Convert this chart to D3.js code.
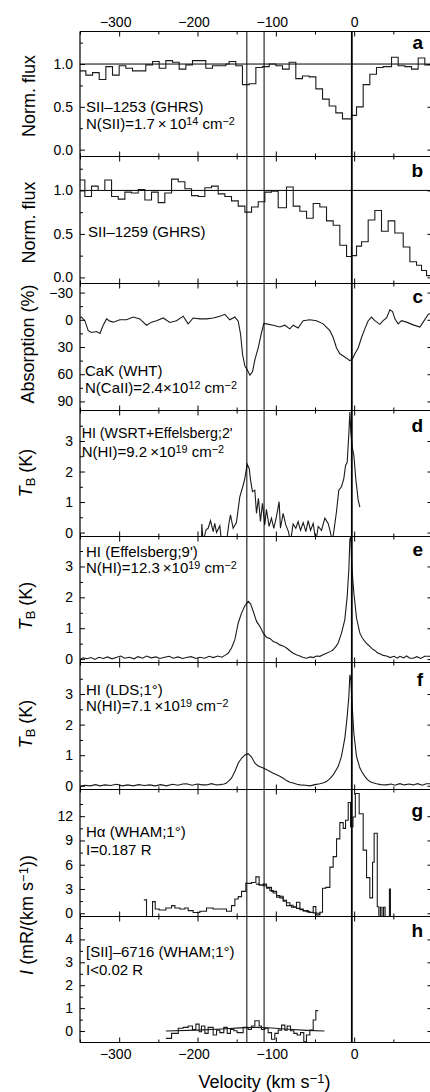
<!DOCTYPE html>
<html>
<head>
<meta charset="utf-8">
<script src="https://d3js.org/d3.v7.min.js"></script>
<style>
body { margin: 0; background: #fff; overflow: hidden; }
svg { display: block; }
</style>
</head>
<body>
<svg id="chart"></svg>
<script>
// velocity axis (km/s)
var velTicks = [-300, -200, -100, 0, 100];
var velMinor = [-350, -250, -150, -50, 50];
var markVel = [-137, -115, -3];   // vertical guide lines

// a: SII-1253 (GHRS), binned
var aSpec = [[-351,0.92],[-342.5,0.87],[-334,0.90],[-325.5,0.82],[-317,0.97],[-308.5,0.87],[-300,0.98],[-291.5,0.95],
  [-283,0.92],[-266,0.99],[-257.4,1.03],[-248.9,0.95],[-240.4,1.04],[-231.9,1.02],[-223.4,0.94],[-214.9,0.99],
  [-206.4,1.04],[-189.4,0.95],[-180.9,0.98],[-163.8,1.00],[-159.6,1.03],[-151.1,0.98],[-142.6,0.76],[-134,0.77],
  [-125.5,0.96],[-117,0.97],[-108.5,1.00],[-100,0.98],[-91.5,0.94],[-83,1.02],[-74.5,0.83],[-66,0.86],[-57.4,0.85],
  [-48.9,0.71],[-40.4,0.59],[-31.9,0.51],[-23.4,0.43],[-14.9,0.36],[-3.4,0.40],[3,0.50],[11.5,0.76],[20,0.88],
  [28.5,0.96],[37,0.97],[47.7,1.08],[56.2,0.98],[64.7,0.97],[73.2,0.94],[81.7,1.07],[90.2,0.99],[100,0.99]];

// b: SII-1259 (GHRS), binned
var bSpec = [[-351,1.12],[-343.8,0.93],[-335.3,1.05],[-326.8,1.00],[-318.3,1.12],[-309.7,0.93],[-301.2,0.90],
  [-292.7,0.98],[-284.2,0.97],[-275.7,1.01],[-267.2,0.89],[-258.7,0.98],[-250.2,0.86],[-241.7,0.97],[-233.1,1.13],
  [-224.6,1.10],[-216.1,1.02],[-207.6,0.94],[-199.1,0.93],[-190.6,1.03],[-182.1,1.05],[-173.6,0.96],[-165.1,0.93],
  [-156.6,0.88],[-148,0.82],[-139.5,0.75],[-131,0.81],[-122.5,0.87],[-114,0.98],[-105.5,0.99],[-97,0.80],
  [-86.4,1.04],[-77.8,0.82],[-69.3,0.76],[-60.8,0.68],[-52.3,0.85],[-43.8,0.81],[-35.3,0.65],[-26.8,0.60],
  [-18.3,0.37],[-9.7,0.24],[-3.4,0.25],[3,0.36],[9.4,0.41],[17.9,0.66],[26.4,0.77],[34.9,0.53],[43.4,0.65],
  [51.9,0.51],[62.6,0.35],[71.1,0.18],[79.6,0.14],[86,0.08],[92.4,0.02],[100,0.02]];

// c: CaK absorption (%)
var cSpec = [[-351,-2],[-348.1,-3],[-343.8,1],[-339.5,12],[-335.3,14],[-328.9,13],[-324.6,15],[-320.4,6],
  [-316.1,-1],[-311.9,1.5],[-307.6,2.6],[-299.1,0],[-290.6,0],[-282.1,-3],[-273.6,-1],[-265.1,6],[-258.7,2.6],
  [-252.3,1],[-243.8,-2],[-235.3,3],[-226.8,1],[-218.3,-4],[-211.9,4.5],[-205.5,-2],[-197,-1],[-188.5,-1],
  [-180,-2],[-171.5,-4],[-165.1,-6],[-158.7,0],[-152.3,-3],[-148,1.5],[-145,16],[-142.5,38],[-139.5,51],
  [-136.5,55],[-133.1,61],[-129.7,57],[-126.7,44],[-122.5,31],[-118.2,14],[-115.3,4],[-111.9,4.5],[-103.4,6],
  [-94.9,8],[-88.5,6],[-82.1,10],[-77.8,6],[-71.5,9],[-65.1,1],[-56.6,0],[-48.1,1],[-39.6,4.5],[-31,12],
  [-26.8,19.5],[-22.5,31],[-18.3,37.5],[-11.9,41],[-5.5,45],[-2.1,43],[0.9,37.5],[5.1,31],[9.4,19.5],
  [13.6,10],[17.9,1],[22.1,-3],[26.4,1],[32.8,5],[37,1],[41.3,-2],[45.6,-11],[49,-9],[52,-1],[56.2,4.5],
  [60.5,1],[66.8,2.6],[75.3,5.6],[83.9,8],[88.1,2.6],[94.5,-6],[100,-8]];

// d: HI WSRT+Effelsberg (K)
var dSpec = [[-194.9,-0.3],[-194.5,0.28],[-192.8,-0.3],[-189,0.1],[-186.4,0.14],[-183.4,0.39],[-180,0.03],
  [-178,0.3],[-175.7,0.0],[-171.5,0.22],[-169.4,-0.3],[-163,-0.3],[-160,0.28],[-157.9,0.58],[-154.5,0.14],
  [-150.3,0.33],[-146,1.17],[-141.7,1.55],[-139.6,1.77],[-136.6,2.24],[-134,2.1],[-132.3,1.72],[-129.8,1.34],
  [-126.8,1.39],[-124.7,0.63],[-122.2,1.12],[-119.6,0.36],[-117.1,0.96],[-114.1,0.25],[-112,0.76],[-108.6,0.2],
  [-105.6,0.47],[-102.6,0.14],[-99.2,0.52],[-95.8,1.01],[-94.1,0.14],[-90.7,0.63],[-87.3,0.25],[-83.9,0.03],
  [-81.3,-0.3],[-77.9,0.28],[-74.5,0.14],[-71.5,0.36],[-68.5,0.07],[-65.1,0.33],[-61.7,0.03],[-58.7,0.39],
  [-55.7,0.07],[-52.3,0.3],[-48.9,-0.3],[-45.9,0.2],[-41.7,0.07],[-37.4,0.47],[-33.2,0.3],[-30.2,0.0],
  [-28.1,-0.3],[-26,0.03],[-22.6,0.68],[-19.6,1.39],[-16.2,1.5],[-13.2,1.77],[-11,2.2],[-8.9,2.3],
  [-6.8,3.24],[-5.5,3.95],[-4.3,3.3],[-2.5,2.8],[-0.4,2.53],[2.2,1.72],[5.1,1.07],[7.3,0.83]];

// e: HI Effelsberg 9' (K)
var eSpec = [[-351,-0.02],[-346,0.04],[-341,0.01],[-336,0.05],[-331,-0.01],[-326,0.06],[-320,0.02],[-315,0.07],
  [-309,0.01],[-304,0.05],[-298,0.1],[-293,0.03],[-287,0.06],[-281,0.01],[-276,0.08],[-270,0.03],[-265,0.1],
  [-259,0.04],[-253,0.07],[-248,0.02],[-242,0.06],[-236,0.09],[-231,0.03],[-225,0.07],[-219,0.02],[-214,0.05],
  [-208,0.08],[-202,0.02],[-197,0.06],[-191,0.03],[-185,0.09],[-180,0.05],[-174,0.1],[-169,0.06],[-165,0.12],
  [-160.9,0.19],[-156.6,0.36],[-152.3,0.63],[-148,1.17],[-143.8,1.49],[-139.5,1.73],[-135.3,1.87],[-132.3,1.79],
  [-128.9,1.55],[-124.6,1.22],[-120.4,1.06],[-116.1,0.84],[-111.9,0.71],[-107,0.66],[-103.4,0.57],[-99,0.53],
  [-94.9,0.46],[-90,0.42],[-86.4,0.36],[-82,0.27],[-77.9,0.19],[-73,0.13],[-69.3,0.1],[-65,0.05],[-60.8,0.03],
  [-56,0.07],[-52.3,0.05],[-48,0.1],[-43.8,0.09],[-39,0.15],[-35.3,0.19],[-30,0.25],[-26.8,0.3],[-23,0.42],
  [-20.4,0.52],[-16.2,0.84],[-11.9,1.28],[-8.9,2.03],[-6.8,2.9],[-5.5,3.87],[-4.2,3.98],[-3,3.0],[-0.4,2.14],
  [3,1.33],[7.3,0.84],[10,0.7],[13.6,0.57],[17,0.48],[20,0.41],[23,0.33],[26.4,0.28],[30,0.2],[32.8,0.17],
  [37,0.12],[41.3,0.1],[46,0.05],[51,0.09],[55,0.03],[58.3,0.09],[63,0.04],[67,0.1],[71,0.03],[75.3,0.03],
  [80,0.08],[85,0.02],[90,0.09],[96.6,0.09],[100,0.06]];

// f: HI LDS 1 deg (K)
var fSpec = [[-351,-0.02],[-344,0.02],[-337,0.0],[-330,0.04],[-324.6,0.0],[-318,0.03],[-311,0.01],[-303.4,0.05],
  [-296,0.0],[-289,0.03],[-282.1,0.0],[-275,0.04],[-268,0.01],[-260.8,0.03],[-254,0.0],[-247,0.04],[-239.6,0.0],
  [-232,0.05],[-225,0.02],[-219,0.06],[-214,0.07],[-207,0.02],[-200,0.06],[-194,0.03],[-188.5,0.03],
  [-182,0.07],[-176,0.03],[-171.5,0.04],[-166,0.06],[-163,0.09],[-156.6,0.25],[-152.3,0.47],[-148,0.74],
  [-143.8,0.9],[-139.5,1.01],[-135.3,1.05],[-131,0.94],[-126.8,0.74],[-122.5,0.65],[-116.1,0.58],[-109.7,0.5],
  [-103.4,0.41],[-99,0.36],[-94.9,0.31],[-90,0.24],[-86.4,0.17],[-82,0.12],[-77.9,0.09],[-73,0.05],[-69.3,0.03],
  [-62,0.02],[-56.6,0.0],[-50,0.04],[-43.8,0.07],[-39,0.1],[-35.3,0.14],[-30,0.26],[-26.8,0.36],[-20.4,0.63],
  [-16.2,0.96],[-11.9,1.56],[-8.9,2.27],[-6.8,2.92],[-5.5,3.63],[-4.2,3.47],[-2.5,2.6],[-0.4,1.72],[3,0.96],
  [7.3,0.58],[10,0.45],[13.6,0.31],[17,0.2],[20,0.14],[24,0.1],[28.5,0.07],[34,0.04],[41.3,0.03],[47,0.06],
  [52,0.02],[58.3,0.07],[64,0.03],[70,0.06],[75.3,0.03],[81,0.07],[87,0.02],[92,0.07],[96.6,0.07],[100,0.05]];

// g: H-alpha WHAM (mR/(km/s)), binned, plus fitted component
var gSpec = [[-268.5,1.65],[-265.1,-0.5],[-257.4,1.44],[-254,0.53],[-248.9,0.41],[-240.4,0.66],[-233.1,0.95],
  [-228.9,0.66],[-222.5,0.53],[-216.1,0.66],[-211.9,0.33],[-205.5,0.1],[-197,0.25],[-188.5,0.66],[-180,0.53],
  [-163,0.25],[-156.6,0.95],[-152.3,1.77],[-148,2.06],[-143.8,2.7],[-138.3,3.7],[-131,3.8],[-125.5,4.5],
  [-121.3,3.5],[-116.2,3.6],[-111.9,3.2],[-105.5,2.7],[-99.1,2.0],[-94.9,2.1],[-90.6,1.5],[-86.4,0.95],
  [-80,0.74],[-73.6,1.36],[-69.3,0.53],[-65.1,0.33],[-58.7,0.12],[-52.3,0.82],[-48.9,-0.2],[-43.8,0.12],
  [-40.4,3.1],[-36.2,3.2],[-31,5.7],[-26.8,7.0],[-22.5,9.2],[-18.3,11.2],[-14,10.5],[-11,11.5],[-7.6,13.7],
  [-4.6,10.7],[-1.5,11.9],[1.5,14.8],[6.4,12.3],[11.5,7.8],[15.8,4.4],[20,1.9],[23.5,6.3],[25.5,9.9],
  [29.5,0.8],[31.5,-0.4],[33.5,0.74],[35.5,-0.4],[37.5,0.74],[39.5,-0.4],[45,3.0],[46.3,-0.5]];
var gFit = [[-125.5,3.6],[-121.3,3.5],[-116.2,3.4],[-111.9,3.1],[-107.6,2.8],[-103.4,2.5],[-99.1,2.2],
  [-94.9,1.9],[-90.6,1.6],[-86.4,1.3],[-82.1,1.0],[-77.9,0.8],[-73.6,0.6],[-69.3,0.45],[-65.1,0.3],
  [-60.8,0.2],[-56.6,0.1],[-52.3,0.05],[-48.1,0.0],[-43.8,-0.1]];

// h: [SII]-6716 WHAM, binned, plus baseline fit
var hSpec = [[-240.4,-0.32],[-233.1,-0.1],[-224.6,0.12],[-218.3,0.16],[-211.9,0.22],[-206.4,0.07],[-202.1,0.3],
  [-197.9,-0.03],[-194.9,0.22],[-190.6,-0.1],[-186.4,0.16],[-180,-0.17],[-175.7,0.04],[-171.5,-0.07],
  [-166.4,0.16],[-162.1,-0.1],[-157.9,0.07],[-153.6,0.01],[-149.4,-0.07],[-141.7,0.16],[-135.3,0.07],
  [-131.1,0.22],[-126.8,0.45],[-121.3,0.22],[-118.3,0.07],[-114,0.12],[-109.8,-0.07],[-105.5,-0.36],
  [-101.3,-0.1],[-97,0.04],[-92.7,0.26],[-88.5,0.04],[-85.5,0.22],[-81.3,0.01],[-77,-0.1],[-72.8,-0.17],
  [-68.5,-0.07],[-64.3,-0.47],[-60.9,-0.17],[-56.6,0.04],[-52.3,0.48],[-48.9,0.89],[-46,0.89]];
var hFit = [[-240.4,0.0],[-200,0.04],[-170,0.09],[-145,0.14],[-125,0.16],[-105,0.13],[-85,0.08],[-60,0.03],[-38,0.0]];

var FONT = '"Liberation Sans", Arial, Helvetica, sans-serif';
var W = 430, H = 1092;
var svg = d3.select('#chart').attr('width', W).attr('height', H)
    .attr('font-family', FONT);

var x = d3.scaleLinear().domain([-350, 100]).range([80, 432.5]);
var xL = x(-350), xR = x(100);
var top0 = 31.5, bot0 = 1042.5;

var fmt1 = d3.format('.1f'), fmtI = d3.format('d');
// the 100 tick sits on the clipped right edge and has no label
var fmtVel = function (d) { return d === 100 ? '' : fmtI(d); };

// panel layout
var panels = [
  {id:'a', top:31.5, bot:156.5, dom:[-0.08,1.38], major:[0,0.5,1], minor:[0.25,0.75,1.25], fmt:fmt1, ref:1,
   series:[{data:aSpec, step:true}], letterY:49.3,
   notes:[{x:86, y:111.7, t:[['SII\u20131253 (GHRS)']]},
          {x:86, y:129.3, t:[['N(SII)=1.7\u2009\u00d7\u200910'],['14','sup'],[' cm'],['\u22122','sup']]}]},
  {id:'b', top:156.5, bot:283.5, dom:[-0.07,1.39], major:[0,0.5,1], minor:[0.25,0.75,1.25], fmt:fmt1, ref:1,
   series:[{data:bSpec, step:true}], letterY:176.7,
   notes:[{x:88, y:237.3, t:[['SII\u20131259 (GHRS)']]}]},
  {id:'c', top:283.5, bot:410.5, dom:[-40,100], flip:true, major:[-30,0,30,60,90], minor:[-15,15,45,75], fmt:fmtI,
   series:[{data:cSpec}], letterY:303.3,
   notes:[{x:85, y:376, t:[['CaK (WHT)']]},
          {x:85, y:393.3, t:[['N(CaII)=2.4\u00d710'],['12','sup'],[' cm'],['\u22122','sup']]}]},
  {id:'d', top:410.5, bot:536.5, dom:[-0.13,4.0], major:[0,1,2,3], minor:[0.5,1.5,2.5,3.5], fmt:fmtI,
   series:[{data:dSpec}], letterY:431.7,
   notes:[{x:81.7, y:438.3, t:[['HI (WSRT+Effelsberg;2\'']], size:14.2},
          {x:81.7, y:456.7, t:[['N(HI)=9.2\u2009\u00d710'],['19','sup'],[' cm'],['\u22122','sup']]}]},
  {id:'e', top:536.5, bot:662.5, dom:[-0.11,3.97], major:[0,1,2,3], minor:[0.5,1.5,2.5,3.5], fmt:fmtI,
   series:[{data:eSpec}], letterY:556,
   notes:[{x:86, y:556.7, t:[['HI (Effelsberg;9\')']]},
          {x:86, y:573.3, t:[['N(HI)=12.3\u2009\u00d710'],['19','sup'],[' cm'],['\u22122','sup']]}]},
  {id:'f', top:662.5, bot:789.5, dom:[-0.12,4.03], major:[0,1,2,3], minor:[0.5,1.5,2.5,3.5], fmt:fmtI,
   series:[{data:fSpec}], letterY:686,
   notes:[{x:86, y:695, t:[['HI (LDS;1\u00b0)']]},
          {x:86, y:711, t:[['N(HI)=7.1\u2009\u00d710'],['19','sup'],[' cm'],['\u22122','sup']]}]},
  {id:'g', top:789.5, bot:916.5, dom:[-0.4,15.3], major:[0,3,6,9,12], minor:[1.5,4.5,7.5,10.5,13.5], fmt:fmtI,
   series:[{data:gSpec, step:true}, {data:gFit, step:true}], letterY:816.7,
   notes:[{x:86, y:836.7, t:[['H\u03b1 (WHAM;1\u00b0)']]},
          {x:86, y:855, t:[['I=0.187 R']]}]},
  {id:'h', top:916.5, bot:1042.5, dom:[-0.5,5.0], major:[0,1,2,3,4], minor:[0.5,1.5,2.5,3.5,4.5], fmt:fmtI,
   series:[{data:hSpec, step:true}, {data:hFit}], letterY:937.3,
   notes:[{x:86, y:956.7, t:[['[SII]\u20136716 (WHAM;1\u00b0)']]},
          {x:86, y:975, t:[['I<0.02 R']]}]}
];

function rich(sel, parts) {
  parts.forEach(function (p) {
    var t = sel.append('tspan').text(p[0]);
    if (p[1] === 'sup') t.attr('baseline-shift', '38%').attr('font-size', '72%');
    if (p[1] === 'sub') t.attr('baseline-shift', '-22%').attr('font-size', '72%');
    if (p[1] === 'it') t.attr('font-style', 'italic');
  });
}

function styleAxis(g, size) {
  g.select('.domain').remove();
  g.attr('font-family', FONT).attr('font-size', size || 14);
  g.selectAll('line').attr('stroke', '#000');
  g.selectAll('text').attr('fill', '#000');
}

var defs = svg.append('defs');

panels.forEach(function (p, i) {
  var y = d3.scaleLinear().domain(p.dom).range(p.flip ? [p.top, p.bot] : [p.bot, p.top]);
  var g = svg.append('g').attr('class', 'panel-' + p.id);

  defs.append('clipPath').attr('id', 'clip-' + p.id)
    .append('rect').attr('x', xL).attr('y', p.top).attr('width', xR - xL).attr('height', p.bot - p.top);

  if (p.ref !== undefined) {
    g.append('line').attr('x1', xL).attr('x2', xR).attr('y1', y(p.ref)).attr('y2', y(p.ref))
      .attr('stroke', '#000').attr('stroke-width', 1);
  }

  p.series.forEach(function (s) {
    var line = d3.line().x(function (d) { return x(d[0]); }).y(function (d) { return y(d[1]); })
      .curve(s.step ? d3.curveStepAfter : d3.curveLinear);
    g.append('path').datum(s.data).attr('clip-path', 'url(#clip-' + p.id + ')')
      .attr('d', line).attr('fill', 'none').attr('stroke', '#1a1a1a').attr('stroke-width', 1.1)
      .attr('stroke-linejoin', 'miter');
  });

  // y axes: inward ticks left and right
  g.append('g').attr('transform', 'translate(' + xL + ',0)')
    .call(d3.axisLeft(y).tickValues(p.major).tickSizeInner(-5).tickSizeOuter(0).tickPadding(7).tickFormat(p.fmt))
    .call(styleAxis);
  g.append('g').attr('transform', 'translate(' + xL + ',0)')
    .call(d3.axisLeft(y).tickValues(p.minor).tickSizeInner(-3).tickSizeOuter(0).tickFormat(''))
    .call(styleAxis);
  g.append('g').attr('transform', 'translate(' + xR + ',0)')
    .call(d3.axisRight(y).tickValues(p.major).tickSizeInner(-5).tickSizeOuter(0).tickFormat(''))
    .call(styleAxis);

  // x ticks at top and bottom edge of every panel
  var topAx = d3.axisTop(x).tickValues(velTicks).tickSizeInner(-5).tickSizeOuter(0).tickPadding(5)
    .tickFormat(i === 0 ? fmtVel : '');
  g.append('g').attr('transform', 'translate(0,' + p.top + ')').call(topAx).call(styleAxis)
    .selectAll('text').attr('dx', function (d) { return d < 0 ? -4 : 0; });
  g.append('g').attr('transform', 'translate(0,' + p.top + ')')
    .call(d3.axisTop(x).tickValues(velMinor).tickSizeInner(-3).tickSizeOuter(0).tickFormat(''))
    .call(styleAxis);

  var botAx = d3.axisBottom(x).tickValues(velTicks).tickSizeInner(-5).tickSizeOuter(0).tickPadding(7)
    .tickFormat(i === panels.length - 1 ? fmtVel : '');
  g.append('g').attr('transform', 'translate(0,' + p.bot + ')').call(botAx).call(styleAxis)
    .selectAll('text').attr('dx', function (d) { return d < 0 ? -4 : 0; });
  g.append('g').attr('transform', 'translate(0,' + p.bot + ')')
    .call(d3.axisBottom(x).tickValues(velMinor).tickSizeInner(-3).tickSizeOuter(0).tickFormat(''))
    .call(styleAxis);

  // panel borders
  g.append('line').attr('x1', xL).attr('x2', xR).attr('y1', p.top).attr('y2', p.top)
    .attr('stroke', '#000').attr('stroke-width', 1.2);

  // annotations
  p.notes.forEach(function (n) {
    var t = g.append('text').attr('x', n.x).attr('y', n.y).attr('font-size', n.size || 15).attr('fill', '#000');
    rich(t, n.t);
  });

  g.append('text').attr('x', 423).attr('y', p.letterY).attr('text-anchor', 'end')
    .attr('font-size', 19).attr('font-weight', 'bold').attr('fill', '#000').text(p.id);
});

// outer frame pieces
svg.append('line').attr('x1', xL).attr('x2', xL).attr('y1', top0).attr('y2', bot0)
  .attr('stroke', '#000').attr('stroke-width', 1.2);
svg.append('line').attr('x1', xL).attr('x2', xR).attr('y1', bot0).attr('y2', bot0)
  .attr('stroke', '#000').attr('stroke-width', 1.2);

// vertical guide lines through all panels
svg.selectAll('line.mark').data(markVel).enter().append('line').attr('class', 'mark')
  .attr('x1', function (d) { return x(d); }).attr('x2', function (d) { return x(d); })
  .attr('y1', top0).attr('y2', bot0).attr('stroke', '#000')
  .attr('stroke-width', function (d, i) { return i === 2 ? 1.8 : 1; });

// axis titles
var yTitles = [
  {cx:35, cy:96, t:[['Norm. flux']]},
  {cx:35, cy:222.5, t:[['Norm. flux']]},
  {cx:34, cy:344, t:[['Absorption (%)']]},
  {cx:32, cy:473, t:[['T','it'],['B','sub'],[' (K)']]},
  {cx:32, cy:606, t:[['T','it'],['B','sub'],[' (K)']]},
  {cx:32, cy:724, t:[['T','it'],['B','sub'],[' (K)']]},
  {cx:33, cy:915, t:[['I','it'],[' (mR/(km s'],['\u22121','sup'],['))']]}
];
yTitles.forEach(function (d) {
  var t = svg.append('text').attr('transform', 'translate(' + d.cx + ',' + d.cy + ') rotate(-90)')
    .attr('text-anchor', 'middle').attr('font-size', 18).attr('fill', '#000');
  rich(t, d.t);
});

var xt = svg.append('text').attr('x', 264.5).attr('y', 1088).attr('text-anchor', 'middle')
  .attr('font-size', 18).attr('fill', '#000');
rich(xt, [['Velocity (km s'], ['\u22121', 'sup'], [')']]);
</script>
</body>
</html>
